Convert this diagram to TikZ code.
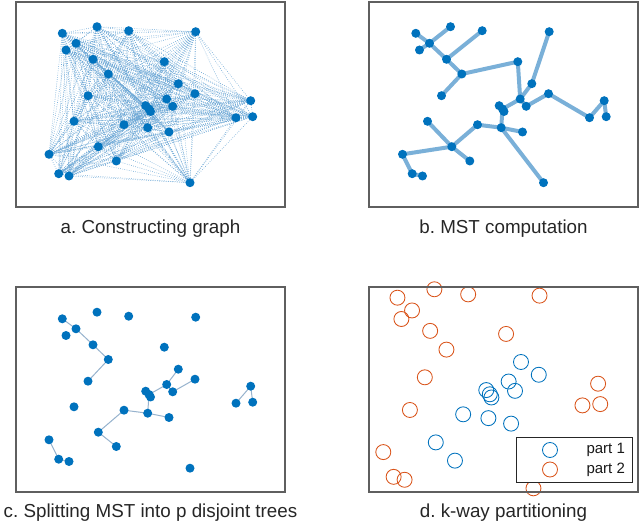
\documentclass[tikz,border=0pt]{standalone}
\usepackage{fontspec}
\setmainfont{Liberation Sans}
\usetikzlibrary{backgrounds}
\frenchspacing

\definecolor{mblue}{RGB}{0,114,189}
\definecolor{morange}{RGB}{217,83,25}
\definecolor{mstblue}{RGB}{122,176,216}
\definecolor{treeblue}{RGB}{150,178,205}
\definecolor{gridblue}{RGB}{105,165,212}
\definecolor{framegray}{RGB}{95,95,95}

% point x / point y / part
\newcommand{\pointlist}{62.3/33.3/2, 97/26.7/2, 128.7/30.7/2, 195.7/31.7/2,
  76/43.3/2, 66/50/2, 93/59.3/2, 164.3/61.7/2, 108.3/74/2, 178.3/83.7/1,
  195/93.7/1, 88/95.7/2, 166.7/99/1, 145.7/105.7/1, 149/109/1, 172.7/106.3/1,
  250.7/100.7/2, 252.7/116.7/2, 236/117.7/2, 74/121.3/2, 124/124.7/1,
  147.7/127.7/1, 169/132/1, 98.3/146.7/1, 49/154.3/2, 116.3/161/1,
  58.7/173.7/2, 69/176/2, 190/182.7/2, 150.5/111.5/1}
\newcommand{\mstedges}{1/5, 5/2, 5/6, 5/7, 7/3, 7/9, 9/8, 9/12, 8/13, 4/10,
  10/13, 13/16, 16/11, 11/19, 19/17, 17/18, 13/15, 14/15, 15/30, 15/22,
  22/21, 22/23, 22/29, 21/24, 24/20, 24/26, 24/25, 25/27, 27/28}
\newcommand{\treeedges}{1/5, 5/7, 7/9, 9/12, 10/13, 13/15, 14/15, 15/30,
  15/22, 22/21, 22/23, 21/24, 24/26, 11/16, 13/16, 25/27, 27/28, 17/19, 17/18}

\begin{document}
\begin{tikzpicture}[x=1pt, y=-1pt,
    dot/.style={circle, fill=mblue, inner sep=0pt, minimum size=9pt},
    ring/.style={circle, line width=0.85pt, inner sep=0pt, minimum size=15pt},
    part1/.style={draw=mblue},
    part2/.style={draw=morange},
    dotline/.style={gridblue, line width=0.55pt, dash pattern=on 0.7pt off 1.5pt},
    mstline/.style={mstblue, line width=4pt},
    treeline/.style={treeblue, line width=1pt},
    axesbox/.style={draw=framegray, line width=1.2pt},
    caption/.style={font=\fontsize{18.8}{22}\selectfont, text=black!85, anchor=base},
    legtext/.style={font=\fontsize{15}{18}\selectfont, text=black!90, anchor=west},
  ]
  \useasboundingbox (0,0) rectangle (640,526);

  % a. complete graph
  \foreach \px/\py/\pp [count=\i] in \pointlist
    \node[dot] (a\i) at (\px,\py) {};
  \begin{scope}[on background layer]
    \foreach \i in {1,...,29} {
      \pgfmathtruncatemacro\nxt{\i+1}
      \foreach \j in {\nxt,...,30}
        \draw[dotline] (a\i.center) -- (a\j.center);
    }
  \end{scope}
  \draw[axesbox] (16,2) rectangle (285,207);
  \node[caption] (capa) at (150.5,234) {a. Constructing graph};

  % b. minimum spanning tree
  \begin{scope}[shift={(353.5,0)}]
    \foreach \px/\py/\pp [count=\i] in \pointlist
      \node[dot] (b\i) at (\px,\py) {};
  \end{scope}
  \begin{scope}[on background layer]
    \foreach \s/\t in \mstedges
      \draw[mstline] (b\s.center) -- (b\t.center);
  \end{scope}
  \draw[axesbox] (369,2) rectangle (638,207);
  \node[caption] (capb) at (503.5,234) {b. MST computation};

  % c. disjoint trees
  \begin{scope}[shift={(0,285.5)}]
    \foreach \px/\py/\pp [count=\i] in \pointlist
      \node[dot] (c\i) at (\px,\py) {};
  \end{scope}
  \begin{scope}[on background layer]
    \foreach \s/\t in \treeedges
      \draw[treeline] (c\s.center) -- (c\t.center);
  \end{scope}
  \draw[axesbox] (16,287) rectangle (285,492);
  \node[caption] (capc) at (150.5,517) {c. Splitting MST into p disjoint trees};

  % d. partitions
  \begin{scope}[shift={(331.1,255.2)}, xscale=1.065, yscale=1.276]
    \foreach \px/\py/\pp [count=\i] in \pointlist
      \node[ring, part\pp] (d\i) at (\px,\py) {};
  \end{scope}
  \draw[axesbox] (369,287) rectangle (638,492);
  \node[draw=black!85, line width=0.8pt, fill=white, minimum width=116pt,
    minimum height=45pt] (legend) at (574,459.5) {};
  \node[ring, part1] (leg1) at (550,450) {};
  \node[ring, part2] (leg2) at (550,469.5) {};
  \node[legtext] (legt1) at (583,450) {part 1};
  \node[legtext] (legt2) at (583,469.5) {part 2};
  \node[caption] (capd) at (503.5,517) {d. k-way partitioning};
\end{tikzpicture}
\end{document}
